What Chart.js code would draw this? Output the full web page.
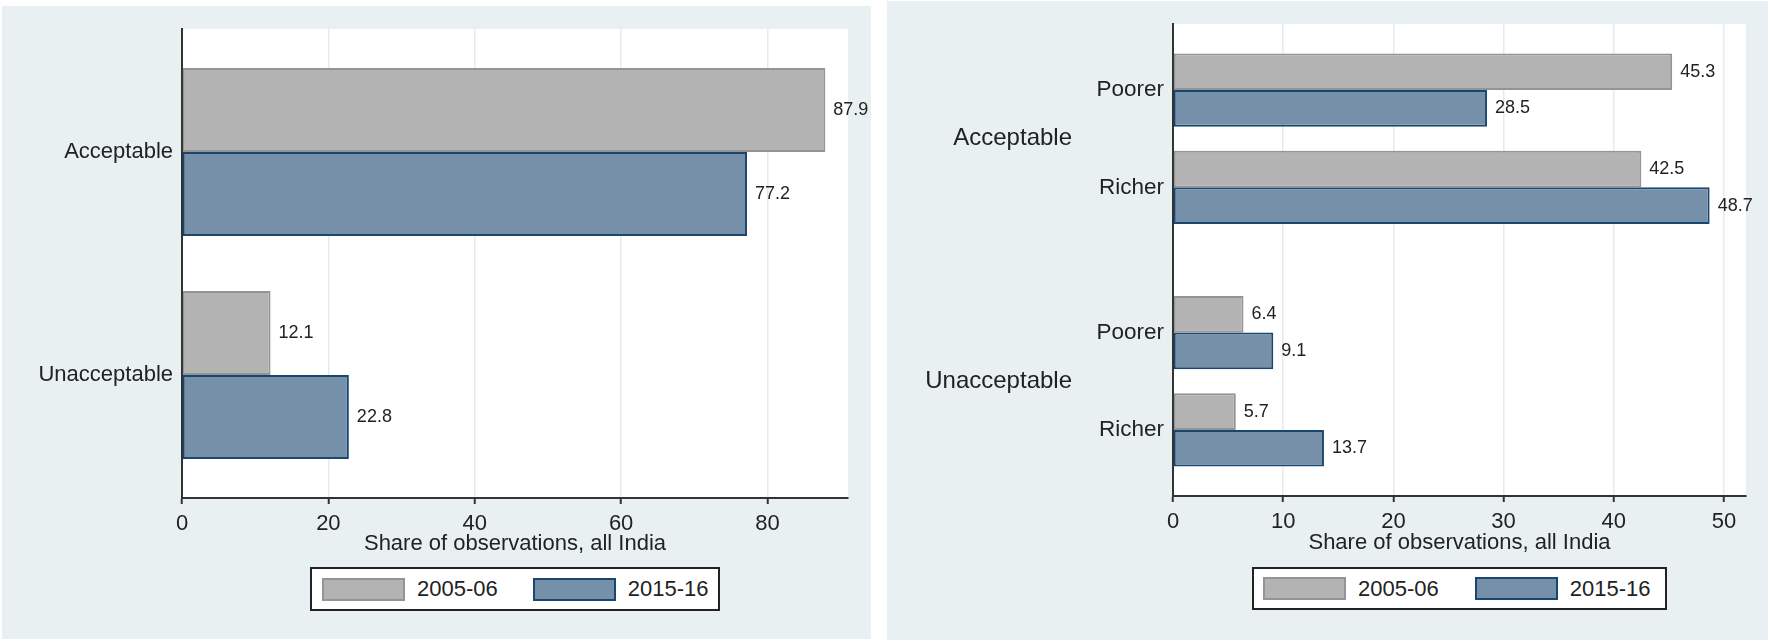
<!DOCTYPE html>
<html>
<head>
<meta charset="utf-8">
<script src="https://cdn.jsdelivr.net/npm/chart.js@4.4.1/dist/chart.umd.min.js"></script>
<style>
  body { margin: 0; width: 1770px; height: 642px; background: #fff; position: relative; overflow: hidden;
         font-family: "Liberation Sans", Arial, sans-serif; }
  .panel { position: absolute; background: #e8f0f2; }
  .panel canvas { position: absolute; left: 0; top: 0; }
  .legend { position: absolute; box-sizing: border-box; border: 2px solid #222; background: #fff;
            display: flex; align-items: center; font-size: 22px; color: #222; }
  .sw { box-sizing: border-box; width: 83px; height: 23px; border: 2px solid; margin-right: 12px; }
  .sw.old { background: #b3b3b3; border-color: #949494; }
  .sw.new { background: #7590a8; border-color: #1a476f; }
  .item { display: flex; align-items: center; }
</style>
</head>
<body>
<div class="panel" id="leftPanel" style="left:2px;top:6px;width:869px;height:633px;">
  <canvas id="left" width="869" height="633"></canvas>
  <div class="legend" style="left:308px;top:561px;width:410px;height:44px;padding-left:10px;">
    <div class="item"><div class="sw old"></div><span>2005-06</span></div>
    <div class="item" style="margin-left:35px"><div class="sw new"></div><span>2015-16</span></div>
  </div>
</div>
<div class="panel" id="rightPanel" style="left:887px;top:1px;width:881px;height:639px;">
  <canvas id="right" width="881" height="639"></canvas>
  <div class="legend" style="left:365px;top:566px;width:415px;height:43px;padding-left:9px;">
    <div class="item"><div class="sw old"></div><span>2005-06</span></div>
    <div class="item" style="margin-left:36px"><div class="sw new"></div><span>2015-16</span></div>
  </div>
</div>

<script>
// data
const outcomes = ['Acceptable', 'Unacceptable'];
const rounds = ['2005-06', '2015-16'];
const india0506 = [87.9, 12.1];
const india1516 = [77.2, 22.8];
const poorer0506 = [45.3, 6.4];
const poorer1516 = [28.5, 9.1];
const richer0506 = [42.5, 5.7];
const richer1516 = [48.7, 13.7];
const leftMax = 91, leftStep = 20;
const rightMax = 52, rightStep = 10;
const axisTitle = 'Share of observations, all India';

const GRAY = '#b3b3b3', GRAY_LINE = '#949494';
const BLUE = '#7590a8', BLUE_LINE = '#1a476f';
const INK = '#222';

Chart.defaults.font.family = '"Liberation Sans", Arial, sans-serif';
Chart.defaults.color = INK;

const plotBackground = {
  id: 'plotBackground',
  beforeDraw(chart) {
    const { ctx, chartArea: a } = chart;
    ctx.save();
    ctx.fillStyle = '#fff';
    ctx.fillRect(a.left, a.top, a.right - a.left, a.bottom - a.top);
    ctx.restore();
  }
};

// numbers printed just past the end of each bar
const valueLabels = {
  id: 'valueLabels',
  afterDatasetsDraw(chart) {
    const ctx = chart.ctx;
    ctx.save();
    ctx.font = '18px "Liberation Sans", Arial, sans-serif';
    ctx.fillStyle = INK;
    ctx.textAlign = 'left';
    ctx.textBaseline = 'middle';
    chart.data.datasets.forEach((ds, i) => {
      chart.getDatasetMeta(i).data.forEach((bar, j) => {
        ctx.fillText(ds.data[j].toFixed(1), bar.x + 8, bar.y);
      });
    });
    ctx.restore();
  }
};

// Poorer / Richer labels next to each pair of bars
const subLabels = {
  id: 'subLabels',
  afterDraw(chart) {
    const ctx = chart.ctx;
    const groups = {};
    chart.data.datasets.forEach((ds, i) => {
      (groups[ds.group] = groups[ds.group] || []).push(chart.getDatasetMeta(i));
    });
    ctx.save();
    ctx.font = '22.5px "Liberation Sans", Arial, sans-serif';
    ctx.fillStyle = INK;
    ctx.textAlign = 'right';
    ctx.textBaseline = 'middle';
    Object.keys(groups).forEach(name => {
      outcomes.forEach((o, j) => {
        const ys = groups[name].map(m => m.data[j].y);
        const y = ys.reduce((a, b) => a + b, 0) / ys.length;
        ctx.fillText(name, chart.chartArea.left - 9, y);
      });
    });
    ctx.restore();
  }
};

function xScale(max, step, height, titlePad) {
  return {
    type: 'linear',
    min: 0,
    max: max,
    ticks: { stepSize: step, includeBounds: false, padding: 7, font: { size: 22 } },
    grid: { color: '#e2ecef', lineWidth: 1.5, tickColor: '#333', tickLength: 6, tickWidth: 2 },
    border: { color: '#333', width: 2 },
    title: { display: true, text: axisTitle, font: { size: 22 }, padding: { top: 0, bottom: titlePad } },
    afterFit: s => { s.height = height; }
  };
}

// spread > 0 pulls the two categories towards the middle, < 0 pushes them out
function yScale(width, padding, size, spread) {
  return {
    ticks: { padding: padding, font: { size: size } },
    grid: { display: false, drawTicks: false },
    border: { color: '#333', width: 2 },
    afterBuildTicks: s => {
      if (typeof s._startValue === 'number') {
        s._startValue -= spread / 2;
        s._valueRange += spread;
      }
    },
    afterFit: s => {
      s.width = width;
      // label padding would otherwise also push the plot down from the top
      s.paddingTop = 0;
      s.paddingBottom = 0;
    }
  };
}

function bar(label, data, old, extra) {
  return Object.assign({
    label: label,
    data: data,
    backgroundColor: old ? GRAY : BLUE,
    borderColor: old ? GRAY_LINE : BLUE_LINE,
    borderWidth: 2,
    borderSkipped: false
  }, extra || {});
}

const common = {
  indexAxis: 'y',
  responsive: false,
  animation: false,
  plugins: { legend: { display: false }, tooltip: { enabled: false } }
};

new Chart(document.getElementById('left'), {
  type: 'bar',
  data: {
    labels: outcomes,
    datasets: [
      bar(rounds[0], india0506, true, { categoryPercentage: 0.754, barPercentage: 1 }),
      bar(rounds[1], india1516, false, { categoryPercentage: 0.754, barPercentage: 1 })
    ]
  },
  options: Object.assign({}, common, {
    layout: { padding: { left: 0, top: 23, right: 23, bottom: 0 } },
    scales: {
      x: xScale(leftMax, leftStep, 141, 82),
      y: yScale(180, 9, 22, 0.103)
    }
  }),
  plugins: [plotBackground, valueLabels]
});

// per-bar percentages place the four bars of each outcome with a gap
// between the Poorer pair and the Richer pair, as in the original
new Chart(document.getElementById('right'), {
  type: 'bar',
  data: {
    labels: outcomes,
    datasets: [
      bar(rounds[0], poorer0506, true, { group: 'Poorer', categoryPercentage: 0.736, barPercentage: 0.8215 }),
      bar(rounds[1], poorer1516, false, { group: 'Poorer', categoryPercentage: 1.0016, barPercentage: 0.6037 }),
      bar(rounds[0], richer0506, true, { group: 'Richer', categoryPercentage: 1.0016, barPercentage: 0.6037 }),
      bar(rounds[1], richer1516, false, { group: 'Richer', categoryPercentage: 0.736, barPercentage: 0.8215 })
    ]
  },
  options: Object.assign({}, common, {
    layout: { padding: { left: 0, top: 23, right: 22, bottom: 0 } },
    scales: {
      x: xScale(rightMax, rightStep, 144, 84),
      y: yScale(286, 101, 24, -0.054)
    }
  }),
  plugins: [plotBackground, valueLabels, subLabels]
});
</script>
</body>
</html>
